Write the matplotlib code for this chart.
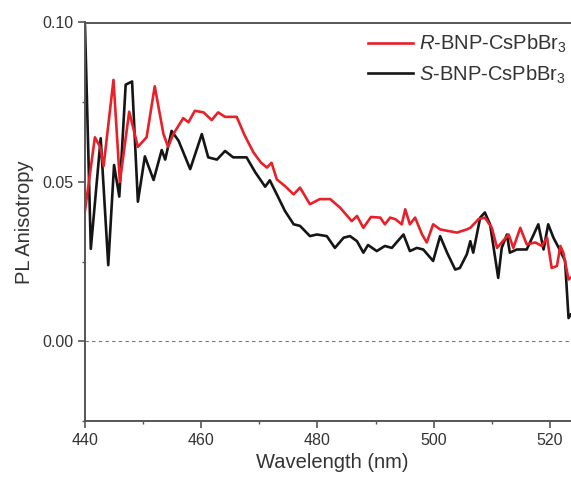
import numpy as np
import matplotlib
matplotlib.use("Agg")
import matplotlib.pyplot as plt
from matplotlib.ticker import MultipleLocator, FormatStrFormatter

plt.rcParams["font.family"] = ["Liberation Sans", "DejaVu Sans"]
plt.rcParams["mathtext.fontset"] = "custom"
plt.rcParams["mathtext.rm"] = "Liberation Sans"
plt.rcParams["mathtext.it"] = "Liberation Sans:italic"

# R-BNP-CsPbBr3 (red)
wl_r = [440.0, 441.7, 442.6, 443.2, 444.9, 446.0, 447.6, 449.1, 450.6, 452.0,
        453.5, 454.3, 455.2, 456.9, 457.8, 458.9, 460.4, 461.8, 462.9, 464.1,
        466.1, 467.5, 469.0, 470.3, 471.3, 472.1, 473.0, 474.4, 475.9, 477.0,
        478.7, 480.4, 482.2, 483.9, 485.9, 486.8, 487.9, 489.2, 490.8, 491.6,
        492.5, 493.4, 494.5, 495.1, 495.9, 496.8, 498.0, 498.8, 499.9, 501.1,
        502.5, 504.0, 505.7, 506.3, 507.7, 508.8, 510.0, 510.9, 511.7, 512.9,
        513.7, 514.9, 516.0, 517.5, 518.6, 519.5, 520.3, 521.2, 521.8, 522.3,
        523.2, 523.6, 524.5]
pa_r = [0.041, 0.064, 0.061, 0.055, 0.082, 0.050, 0.072, 0.061, 0.064, 0.080,
        0.065, 0.061, 0.065, 0.070, 0.0687, 0.0723, 0.0718, 0.0694, 0.0718, 0.0704,
        0.0704, 0.0645, 0.0592, 0.0560, 0.0545, 0.0560, 0.0508, 0.0487, 0.0461, 0.0482,
        0.0430, 0.0446, 0.0446, 0.0419, 0.0377, 0.0393, 0.0356, 0.0390, 0.0388, 0.0367,
        0.0388, 0.0383, 0.0367, 0.0414, 0.0367, 0.0388, 0.0335, 0.0310, 0.0367, 0.0351,
        0.0346, 0.0341, 0.0351, 0.0356, 0.0383, 0.0388, 0.0356, 0.0293, 0.0310, 0.0335,
        0.0293, 0.0356, 0.0304, 0.0310, 0.0299, 0.0325, 0.0230, 0.0236, 0.0299, 0.0278,
        0.0194, 0.0200, 0.0210]

# S-BNP-CsPbBr3 (black)
wl_s = [440.0, 441.0, 442.7, 444.0, 445.0, 445.9, 447.0, 448.1, 449.1, 450.3,
        451.8, 453.2, 453.8, 454.9, 456.1, 458.1, 460.1, 461.2, 462.7, 464.1,
        465.5, 467.8, 469.3, 471.0, 471.8, 473.0, 474.4, 475.9, 477.0, 478.7,
        479.9, 481.6, 483.0, 484.5, 485.6, 486.8, 487.9, 488.7, 490.2, 491.6,
        492.8, 493.6, 494.8, 495.9, 497.1, 498.2, 499.9, 501.1, 502.3, 503.7,
        504.5, 505.7, 506.3, 506.8, 508.0, 508.8, 509.7, 511.1, 511.7, 512.6,
        513.1, 514.3, 516.0, 517.2, 518.0, 518.9, 519.7, 520.6, 521.8, 522.6,
        523.2, 523.6, 524.5]
pa_s = [0.099, 0.029, 0.0637, 0.0239, 0.0553, 0.0454, 0.0805, 0.0815, 0.0438, 0.0580,
        0.0506, 0.0600, 0.0570, 0.0660, 0.0629, 0.0540, 0.0650, 0.0577, 0.0570, 0.0597,
        0.0577, 0.0577, 0.0530, 0.0485, 0.0505, 0.0461, 0.0409, 0.0367, 0.0362, 0.0330,
        0.0335, 0.0330, 0.0293, 0.0325, 0.0330, 0.0314, 0.0278, 0.0302, 0.0283, 0.0299,
        0.0293, 0.0310, 0.0335, 0.0283, 0.0293, 0.0288, 0.0252, 0.0330, 0.0278, 0.0225,
        0.0230, 0.0273, 0.0314, 0.0278, 0.0388, 0.0404, 0.0367, 0.0199, 0.0293, 0.0335,
        0.0278, 0.0288, 0.0288, 0.0335, 0.0367, 0.0288, 0.0367, 0.0325, 0.0283, 0.0252,
        0.0073, 0.0085, 0.0090]

labels = [r"$\it{R}$-BNP-CsPbBr$_3$", r"$\it{S}$-BNP-CsPbBr$_3$"]
colors = ["#e8202a", "#151515"]

W, H = 571, 483
fig = plt.figure(figsize=(W / 100, H / 100), dpi=100)
# axes runs past the right edge of the figure, like the cropped original
ax = fig.add_axes([85 / W, 62 / H, 494 / W, 398.5 / H])

ax.axhline(0, color="#777777", lw=0.8, ls=(0, (3, 3)), zorder=1)
ax.plot(wl_r, pa_r, color=colors[0], lw=1.9, label=labels[0], zorder=3)
ax.plot(wl_s, pa_s, color=colors[1], lw=1.9, label=labels[1], zorder=2)

ax.set_xlim(440, 525)
ax.set_ylim(-0.025, 0.10)
ax.xaxis.set_major_locator(MultipleLocator(20))
ax.xaxis.set_minor_locator(MultipleLocator(10))
ax.yaxis.set_major_locator(MultipleLocator(0.05))
ax.yaxis.set_minor_locator(MultipleLocator(0.025))
ax.yaxis.set_major_formatter(FormatStrFormatter("%.2f"))

for s in ax.spines.values():
    s.set_color("#555555")
    s.set_linewidth(1.4)
ax.tick_params(which="major", direction="out", length=5, width=1.2,
               color="#555555", labelsize=11.5, labelcolor="#333333")
ax.tick_params(which="minor", direction="out", length=2.5, width=1.0,
               color="#555555")

ax.set_xlabel("Wavelength (nm)", fontsize=14.5, color="#333333", labelpad=4)
ax.set_ylabel("PL Anisotropy", fontsize=14.5, color="#333333", labelpad=6)

# sized so the subscript still fits inside the picture
ax.legend(loc="upper left", bbox_to_anchor=(368 / W, 1 - 33 / H),
          bbox_transform=fig.transFigure, frameon=False, fontsize=14.5,
          handlelength=2.25, handletextpad=0.3, borderpad=0,
          borderaxespad=0, labelspacing=0.4, labelcolor="#333333")

fig.savefig("out.png", dpi=100)
